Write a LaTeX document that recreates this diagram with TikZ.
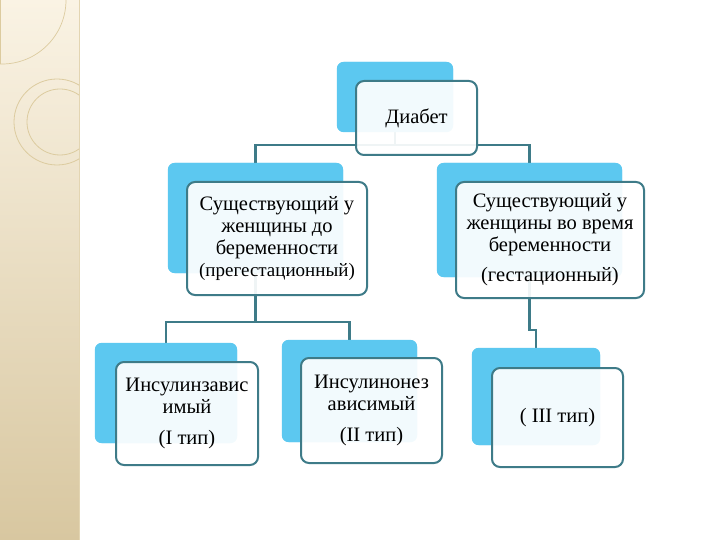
\documentclass[tikz,border=0pt]{standalone}
\usepackage{fontspec}
\setmainfont{Liberation Serif}
\definecolor{backblue}{HTML}{5CC8F0}
\definecolor{edge}{HTML}{3E7B88}
\definecolor{stripTop}{HTML}{FAF3E4}
\definecolor{stripBot}{HTML}{D8C7A0}
\definecolor{deco}{HTML}{DCCB9F}
\begin{document}
\begin{tikzpicture}[x=1pt,y=-1pt,
  backbox/.style={fill=backblue, draw=none, rounded corners=7pt, inner sep=0pt},
  frontbox/.style={fill=white, fill opacity=0.92, text opacity=1, draw=edge, line width=2pt,
    rounded corners=8pt, inner sep=0pt, align=center, font=\fontsize{20.5}{22}\selectfont},
  conn/.style={draw=edge, line width=2.2pt}]
\useasboundingbox (0,0) rectangle (720,540);
\fill[white] (0,0) rectangle (720,540);
% left strip
\shade[top color=stripTop, bottom color=stripBot] (0,0) rectangle (79,540);
\draw[deco!80!white, line width=0.8pt] (79,0) -- (79,540);
\begin{scope}
\clip (0,0) rectangle (79,540);
\draw[deco, line width=0.7pt] (66,0) arc[start angle=0, end angle=90, radius=64] -- (0,64);
\draw[deco, line width=0.7pt] (0.5,0) -- (0.5,64);
\draw[deco, line width=0.8pt] (57,122) circle[radius=43];
\draw[deco, line width=0.8pt] (60,122) circle[radius=33];
\end{scope}
% back boxes
\node[backbox, minimum width=116pt, minimum height=70pt] (b0) at (395,97) {};
\node[backbox, minimum width=175pt, minimum height=110pt] (b1) at (255.5,218) {};
\node[backbox, minimum width=185pt, minimum height=114pt] (b2) at (529.5,220) {};
\node[backbox, minimum width=142pt, minimum height=100pt] (b3) at (166,393) {};
\node[backbox, minimum width=135pt, minimum height=102pt] (b4) at (349.5,391) {};
\node[backbox, minimum width=128pt, minimum height=97pt] (b5) at (536,396.5) {};
% junctions
\coordinate (j0) at (395,145);
\coordinate (j1) at (255.5,322);
\coordinate (j2) at (536,330);
% connectors (behind front boxes)
\draw[conn] (b0.center) -- (j0) -| (b1.north);
\draw[conn] (j0) -| (b2.north);
\draw[conn] (b1.center) -- (j1) -| (b3.north);
\draw[conn] (j1) -| (b4.north);
\draw[conn] (b2.center) |- (j2) -- (b5.north);
% back boxes again over connector ends
\foreach \b in {b0,b1,b2,b3,b4,b5}
  \fill[backblue, rounded corners=7pt] (\b.north west) rectangle (\b.south east);
% front boxes
\node[frontbox, minimum width=121pt, minimum height=74pt] (f0) at (416.5,118) {Диабет};
\node[frontbox, minimum width=180pt, minimum height=113pt] (f1) at (277,238.5)
  {Существующий у\\женщины до\\беременности\\{\fontsize{19}{22}\selectfont(прегестационный)}};
\node[frontbox, minimum width=188pt, minimum height=116pt] (f2) at (550,240)
  {Существующий у\\женщины во время\\беременности\\[8pt](гестационный)};
\node[frontbox, minimum width=142pt, minimum height=103pt] (f3) at (187,413.5)
  {Инсулинзавис\\имый\\[9pt](I тип)};
\node[frontbox, minimum width=141pt, minimum height=105pt] (f4) at (371.5,410.5)
  {Инсулинонез\\ависимый\\[9pt](II тип)};
\node[frontbox, minimum width=131pt, minimum height=99pt] (f5) at (557.5,417.5)
  {( III тип)};
\end{tikzpicture}
\end{document}
